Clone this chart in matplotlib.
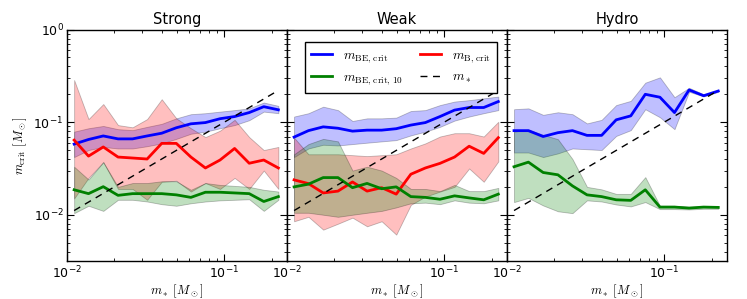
import matplotlib
matplotlib.use('Agg')
import matplotlib.pyplot as plt
from matplotlib.ticker import FuncFormatter, LogLocator
import numpy as np

plt.rcParams['mathtext.fontset'] = 'cm'

# mass bins (same for all panels)
mstar = [0.0111, 0.0137, 0.0170, 0.0211, 0.0261, 0.0323, 0.0400, 0.0495,
         0.0613, 0.0758, 0.0939, 0.1162, 0.1439, 0.1781, 0.2205]

titles = ['Strong', 'Weak', 'Hydro']

# Strong
strong_be = [0.058, 0.065, 0.071, 0.066, 0.066, 0.071, 0.076, 0.087, 0.096, 0.099, 0.109, 0.115, 0.127, 0.147, 0.136]
strong_be_hi = [0.079, 0.086, 0.091, 0.084, 0.082, 0.089, 0.096, 0.110, 0.122, 0.125, 0.130, 0.135, 0.141, 0.163, 0.150]
strong_be_lo = [0.042, 0.050, 0.054, 0.052, 0.052, 0.055, 0.059, 0.066, 0.075, 0.079, 0.086, 0.093, 0.105, 0.130, 0.125]
strong_b = [0.064, 0.043, 0.054, 0.042, 0.041, 0.040, 0.059, 0.059, 0.042, 0.032, 0.039, 0.052, 0.036, 0.039, 0.032]
strong_b_hi = [0.285, 0.108, 0.157, 0.093, 0.088, 0.108, 0.177, 0.110, 0.086, 0.069, 0.081, 0.106, 0.069, 0.050, 0.054]
strong_b_lo = [0.015, 0.025, 0.037, 0.019, 0.019, 0.0145, 0.0227, 0.0233, 0.0178, 0.022, 0.019, 0.025, 0.019, 0.030, 0.019]
strong_10 = [0.0186, 0.0169, 0.0201, 0.0162, 0.0169, 0.0169, 0.0169, 0.0164, 0.0154, 0.0175, 0.0175, 0.0172, 0.0169, 0.0139, 0.0157]
strong_10_hi = [0.033, 0.024, 0.037, 0.020, 0.022, 0.022, 0.023, 0.023, 0.0186, 0.022, 0.021, 0.0205, 0.020, 0.0186, 0.0178]
strong_10_lo = [0.0104, 0.0125, 0.011, 0.0145, 0.0145, 0.0139, 0.013, 0.0125, 0.0133, 0.0139, 0.0143, 0.0145, 0.0147, 0.011, 0.0145]

# Weak
weak_be = [0.069, 0.081, 0.089, 0.086, 0.080, 0.082, 0.082, 0.085, 0.093, 0.099, 0.115, 0.135, 0.144, 0.144, 0.167]
weak_be_hi = [0.115, 0.125, 0.147, 0.135, 0.103, 0.110, 0.110, 0.112, 0.132, 0.135, 0.153, 0.167, 0.173, 0.181, 0.189]
weak_be_lo = [0.042, 0.052, 0.057, 0.056, 0.058, 0.060, 0.062, 0.064, 0.072, 0.079, 0.089, 0.104, 0.115, 0.125, 0.135]
weak_b = [0.0238, 0.0217, 0.0172, 0.018, 0.0226, 0.018, 0.0196, 0.0167, 0.0274, 0.032, 0.0359, 0.042, 0.055, 0.046, 0.068]
weak_b_hi = [0.068, 0.045, 0.045, 0.045, 0.044, 0.043, 0.044, 0.045, 0.052, 0.059, 0.070, 0.076, 0.076, 0.070, 0.101]
weak_b_lo = [0.0085, 0.0095, 0.0069, 0.008, 0.0093, 0.0075, 0.0085, 0.0061, 0.0128, 0.0157, 0.0178, 0.020, 0.0316, 0.0227, 0.0377]
weak_10 = [0.020, 0.0214, 0.0252, 0.0252, 0.0196, 0.0218, 0.0191, 0.020, 0.0157, 0.0154, 0.0147, 0.016, 0.0152, 0.0145, 0.0167]
weak_10_hi = [0.045, 0.058, 0.066, 0.062, 0.030, 0.033, 0.030, 0.025, 0.019, 0.019, 0.018, 0.021, 0.018, 0.018, 0.0195]
weak_10_lo = [0.0105, 0.0105, 0.0100, 0.0095, 0.0100, 0.0105, 0.011, 0.012, 0.0133, 0.0135, 0.013, 0.0143, 0.0135, 0.0133, 0.0143]

# Hydro
hydro_be = [0.081, 0.081, 0.070, 0.077, 0.081, 0.072, 0.072, 0.106, 0.117, 0.200, 0.186, 0.127, 0.223, 0.193, 0.217]
hydro_be_hi = [0.138, 0.141, 0.120, 0.128, 0.122, 0.097, 0.106, 0.153, 0.170, 0.267, 0.305, 0.186, 0.235, 0.200, 0.220]
hydro_be_lo = [0.047, 0.047, 0.042, 0.046, 0.052, 0.051, 0.050, 0.071, 0.082, 0.138, 0.113, 0.084, 0.213, 0.190, 0.213]
hydro_10 = [0.033, 0.037, 0.0286, 0.027, 0.0205, 0.0164, 0.0157, 0.0145, 0.0143, 0.0186, 0.0121, 0.0121, 0.0118, 0.0121, 0.012]
hydro_10_hi = [0.079, 0.083, 0.073, 0.0655, 0.040, 0.020, 0.0188, 0.0168, 0.0168, 0.0255, 0.0125, 0.0125, 0.0122, 0.0124, 0.0123]
hydro_10_lo = [0.0137, 0.0152, 0.0126, 0.0109, 0.0104, 0.0143, 0.0139, 0.0129, 0.0123, 0.0137, 0.0115, 0.0115, 0.0114, 0.0116, 0.0116]

panels = [
    dict(be=(strong_be, strong_be_lo, strong_be_hi), b=(strong_b, strong_b_lo, strong_b_hi),
         b10=(strong_10, strong_10_lo, strong_10_hi)),
    dict(be=(weak_be, weak_be_lo, weak_be_hi), b=(weak_b, weak_b_lo, weak_b_hi),
         b10=(weak_10, weak_10_lo, weak_10_hi)),
    dict(be=(hydro_be, hydro_be_lo, hydro_be_hi), b=None,
         b10=(hydro_10, hydro_10_lo, hydro_10_hi)),
]

fig, axes = plt.subplots(1, 3, figsize=(7.47, 2.99), dpi=100, sharey=True)
fig.subplots_adjust(left=0.0897, right=0.973, bottom=0.127, top=0.901, wspace=0)

fmt = FuncFormatter(lambda v, p: r'$\mathregular{10^{%d}}$' % int(round(np.log10(v))))

for ax, title, d in zip(axes, titles, panels):
    for key, col in [('be', 'b'), ('b', 'r'), ('b10', 'g')]:
        if d[key] is None:
            continue
        mid, lo, hi = d[key]
        ax.fill_between(mstar, lo, hi, color=col, alpha=0.25, edgecolor='k', linewidth=0.6)
    ax.plot(mstar, d['be'][0], color='b', lw=2, label=r'$m_{\rm BE,\,crit}$')
    if d['b'] is not None:
        ax.plot(mstar, d['b'][0], color='r', lw=2, label=r'$m_{\rm B,\,crit}$')
    else:
        ax.plot([], [], color='r', lw=2, label=r'$m_{\rm B,\,crit}$')
    ax.plot(mstar, d['b10'][0], color='g', lw=2, label=r'$m_{\rm BE,\,crit,\,10}$')
    ax.plot(mstar, mstar, 'k', ls=(0, (5, 4)), lw=1, label=r'$m_*$')

    ax.set_xscale('log')
    ax.set_yscale('log')
    ax.set_xlim(0.01, 0.25)
    ax.set_ylim(10 ** -2.5, 1)
    ax.set_title(title, fontsize=10.5, pad=4)
    ax.set_xlabel(r'$m_*\ [M_\odot]$', fontsize=9, labelpad=1)
    ax.xaxis.set_major_locator(LogLocator(base=10))
    ax.xaxis.set_major_formatter(fmt)
    ax.yaxis.set_major_formatter(fmt)
    ax.tick_params(which='both', direction='in', top=True, right=True, labelsize=9)
    ax.tick_params(which='major', length=5, pad=2.5)
    ax.tick_params(which='minor', length=2.5)
    for s in ax.spines.values():
        s.set_linewidth(1)

axes[0].set_ylabel(r'$m_{\rm crit}\ [M_\odot]$', fontsize=9, labelpad=3)

h, l = axes[1].get_legend_handles_labels()
order = [0, 2, 1, 3]
leg = axes[1].legend([h[i] for i in order], [l[i] for i in order], ncol=2,
                     loc='upper left', bbox_to_anchor=(0.05, 0.975), fontsize=9.5,
                     fancybox=False, edgecolor='k', framealpha=1,
                     handlelength=1.6, handletextpad=0.8, columnspacing=1.3,
                     borderpad=0.5, labelspacing=0.45)
leg.get_frame().set_linewidth(1)

fig.savefig('out.png', dpi=100)
